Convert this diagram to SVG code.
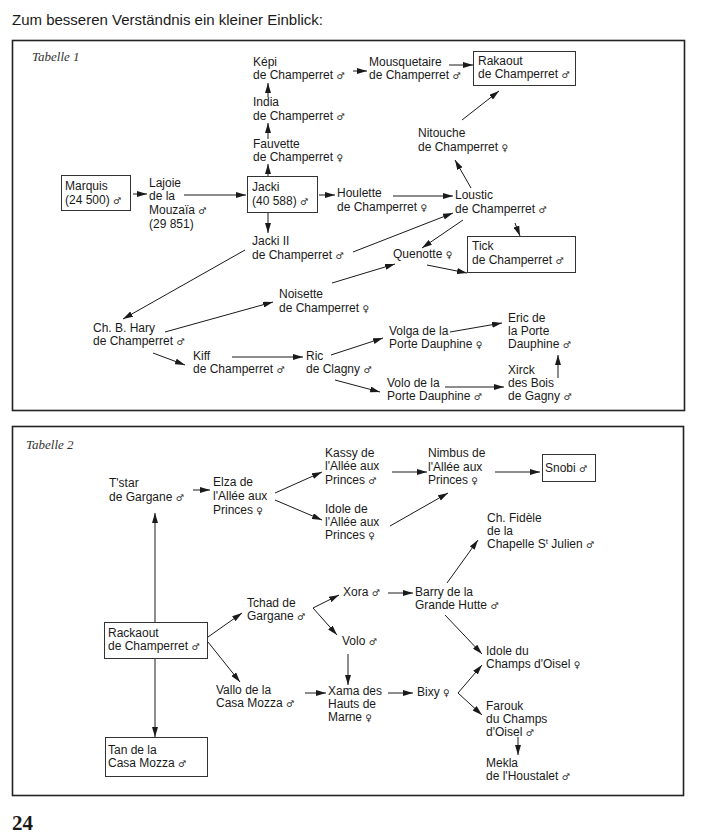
<svg xmlns="http://www.w3.org/2000/svg" width="701" height="839" viewBox="0 0 701 839">
<style>
  text { font-family: "Liberation Sans", Arial, "DejaVu Sans", sans-serif; font-size: 12px; fill: #1a1a1a; }
  .s { font-family: "DejaVu Sans", sans-serif; font-size: 9px; }
  .hdr { font-size: 15px; }
  .tab { font-family: "Liberation Serif", "Times New Roman", serif; font-style: italic; font-size: 13px; fill: #333; }
  .pg { font-family: "Liberation Serif", "Times New Roman", serif; font-weight: bold; font-size: 21px; }
  .frame { fill: none; stroke: #222; stroke-width: 1.6; }
  .box { fill: #fff; stroke: #333; stroke-width: 1; }
  .c { fill: none; stroke: #1a1a1a; stroke-width: 1; marker-end: url(#ah); }
</style>
<defs>
  <marker id="ah" viewBox="0 0 10 6" refX="10" refY="3" markerWidth="10" markerHeight="6" markerUnits="userSpaceOnUse" orient="auto">
    <path d="M0,0 L10,3 L0,6 z" fill="#1a1a1a"/>
  </marker>
</defs>
<rect width="701" height="839" fill="#fff"/>
<text class="hdr" x="12" y="25">Zum besseren Verständnis ein kleiner Einblick:</text>

<rect class="frame" x="12.5" y="40.5" width="672" height="370"/>
<rect class="frame" x="12.5" y="426.5" width="671" height="369"/>
<text class="tab" x="32" y="61">Tabelle 1</text>
<text class="tab" x="26" y="449">Tabelle 2</text>

<g id="connectors">
  <!-- Tabelle 1 -->
  <line class="c" x1="133" y1="194" x2="147" y2="194"/>
  <line class="c" x1="184" y1="195" x2="246" y2="195"/>
  <line class="c" x1="268" y1="176" x2="268" y2="164"/>
  <line class="c" x1="268" y1="139" x2="268" y2="123"/>
  <line class="c" x1="268" y1="97" x2="268" y2="83"/>
  <line class="c" x1="319" y1="195" x2="335" y2="195"/>
  <line class="c" x1="268" y1="213" x2="268" y2="233"/>
  <line class="c" x1="393" y1="196" x2="453" y2="196"/>
  <line class="c" x1="353" y1="71" x2="367" y2="71"/>
  <line class="c" x1="449" y1="65" x2="473" y2="65"/>
  <line class="c" x1="462" y1="120" x2="499" y2="91"/>
  <line class="c" x1="471" y1="188" x2="455" y2="160"/>
  <line class="c" x1="515" y1="223" x2="520" y2="236"/>
  <line class="c" x1="463" y1="220" x2="422" y2="248"/>
  <line class="c" x1="427" y1="265" x2="467" y2="273"/>
  <line class="c" x1="353" y1="252" x2="453" y2="213"/>
  <line class="c" x1="245" y1="250" x2="123" y2="319"/>
  <line class="c" x1="165" y1="332" x2="273" y2="302"/>
  <line class="c" x1="332" y1="283" x2="395" y2="264"/>
  <line class="c" x1="153" y1="353" x2="185" y2="365"/>
  <line class="c" x1="232" y1="357" x2="303" y2="357"/>
  <line class="c" x1="331" y1="355" x2="383" y2="338"/>
  <line class="c" x1="335" y1="380" x2="380" y2="392"/>
  <line class="c" x1="450" y1="332" x2="502" y2="323"/>
  <line class="c" x1="445" y1="387" x2="504" y2="387"/>
  <line class="c" x1="558" y1="378" x2="558" y2="355"/>
  <!-- Tabelle 2 -->
  <line class="c" x1="193" y1="490" x2="210" y2="490"/>
  <line class="c" x1="275" y1="493" x2="322" y2="472"/>
  <line class="c" x1="275" y1="500" x2="322" y2="520"/>
  <line class="c" x1="155" y1="622" x2="155" y2="513"/>
  <line class="c" x1="392" y1="472" x2="427" y2="472"/>
  <line class="c" x1="390" y1="526" x2="448" y2="493"/>
  <line class="c" x1="495" y1="472" x2="540" y2="472"/>
  <line class="c" x1="447" y1="583" x2="478" y2="540"/>
  <line class="c" x1="208" y1="637" x2="242" y2="613"/>
  <line class="c" x1="208" y1="642" x2="240" y2="682"/>
  <line class="c" x1="155" y1="658" x2="155" y2="737"/>
  <line class="c" x1="313" y1="608" x2="339" y2="595"/>
  <line class="c" x1="313" y1="608" x2="337" y2="635"/>
  <line class="c" x1="348" y1="654" x2="348" y2="685"/>
  <line class="c" x1="388" y1="593" x2="413" y2="593"/>
  <line class="c" x1="305" y1="693" x2="326" y2="693"/>
  <line class="c" x1="388" y1="693" x2="413" y2="693"/>
  <line class="c" x1="445" y1="615" x2="482" y2="654"/>
  <line class="c" x1="458" y1="693" x2="482" y2="665"/>
  <line class="c" x1="458" y1="693" x2="482" y2="715"/>
  <line class="c" x1="518" y1="737" x2="518" y2="755"/>
</g>

<!-- Tabelle 1 nodes -->
<g id="kepi"><text><tspan x="253" y="66">Képi</tspan><tspan x="253" y="79">de Champerret <tspan class="s">♂</tspan></tspan></text></g>
<g id="mousquetaire"><text><tspan x="369" y="66">Mousquetaire</tspan><tspan x="369" y="79">de Champerret <tspan class="s">♂</tspan></tspan></text></g>
<g id="rakaout"><rect class="box" x="473.5" y="51.5" width="102" height="34"/><text><tspan x="478" y="65">Rakaout</tspan><tspan x="478" y="78">de Champerret <tspan class="s">♂</tspan></tspan></text></g>
<g id="india"><text><tspan x="253" y="106">India</tspan><tspan x="253" y="120">de Champerret <tspan class="s">♂</tspan></tspan></text></g>
<g id="fauvette"><text><tspan x="253" y="148">Fauvette</tspan><tspan x="253" y="161">de Champerret <tspan class="s">♀</tspan></tspan></text></g>
<g id="nitouche"><text><tspan x="418" y="137">Nitouche</tspan><tspan x="418" y="151">de Champerret <tspan class="s">♀</tspan></tspan></text></g>
<g id="marquis"><rect class="box" x="61.5" y="175.5" width="69" height="35"/><text><tspan x="65" y="190">Marquis</tspan><tspan x="65" y="204">(24 500) <tspan class="s">♂</tspan></tspan></text></g>
<g id="lajoie"><text><tspan x="149" y="187">Lajoie</tspan><tspan x="149" y="200">de la</tspan><tspan x="149" y="214">Mouzaïa <tspan class="s">♂</tspan></tspan><tspan x="149" y="228">(29 851)</tspan></text></g>
<g id="jacki"><rect class="box" x="247.5" y="176.5" width="70" height="36"/><text><tspan x="252" y="191">Jacki</tspan><tspan x="252" y="205">(40 588) <tspan class="s">♂</tspan></tspan></text></g>
<g id="houlette"><text><tspan x="337" y="197">Houlette</tspan><tspan x="337" y="211">de Champerret <tspan class="s">♀</tspan></tspan></text></g>
<g id="loustic"><text><tspan x="455" y="199">Loustic</tspan><tspan x="455" y="213">de Champerret <tspan class="s">♂</tspan></tspan></text></g>
<g id="tick"><rect class="box" x="467.5" y="236.5" width="108" height="36"/><text><tspan x="472" y="250">Tick</tspan><tspan x="472" y="264">de Champerret <tspan class="s">♂</tspan></tspan></text></g>
<g id="jacki-ii"><text><tspan x="252" y="245">Jacki II</tspan><tspan x="252" y="259">de Champerret <tspan class="s">♂</tspan></tspan></text></g>
<g id="quenotte"><text x="393" y="258">Quenotte <tspan class="s">♀</tspan></text></g>
<g id="noisette"><text><tspan x="279" y="298">Noisette</tspan><tspan x="279" y="312">de Champerret <tspan class="s">♀</tspan></tspan></text></g>
<g id="ch-b-hary"><text><tspan x="93" y="332">Ch. B. Hary</tspan><tspan x="93" y="345">de Champerret <tspan class="s">♂</tspan></tspan></text></g>
<g id="kiff"><text><tspan x="193" y="360">Kiff</tspan><tspan x="193" y="373">de Champerret <tspan class="s">♂</tspan></tspan></text></g>
<g id="ric"><text><tspan x="306" y="360">Ric</tspan><tspan x="306" y="373">de Clagny <tspan class="s">♂</tspan></tspan></text></g>
<g id="volga"><text><tspan x="389" y="335">Volga de la</tspan><tspan x="389" y="348">Porte Dauphine <tspan class="s">♀</tspan></tspan></text></g>
<g id="eric"><text><tspan x="508" y="322">Eric de</tspan><tspan x="508" y="335">la Porte</tspan><tspan x="508" y="348">Dauphine <tspan class="s">♂</tspan></tspan></text></g>
<g id="xirck"><text><tspan x="508" y="374">Xirck</tspan><tspan x="508" y="387">des Bois</tspan><tspan x="508" y="400">de Gagny <tspan class="s">♂</tspan></tspan></text></g>
<g id="volo-porte"><text><tspan x="387" y="387">Volo de la</tspan><tspan x="387" y="400">Porte Dauphine <tspan class="s">♂</tspan></tspan></text></g>

<!-- Tabelle 2 nodes -->
<g id="tstar"><text><tspan x="109" y="487">T'star</tspan><tspan x="109" y="501">de Gargane <tspan class="s">♂</tspan></tspan></text></g>
<g id="elza"><text><tspan x="213" y="486">Elza de</tspan><tspan x="213" y="500">l'Allée aux</tspan><tspan x="213" y="514">Princes <tspan class="s">♀</tspan></tspan></text></g>
<g id="kassy"><text><tspan x="325" y="457">Kassy de</tspan><tspan x="325" y="470">l'Allée aux</tspan><tspan x="325" y="484">Princes <tspan class="s">♂</tspan></tspan></text></g>
<g id="idole-allee"><text><tspan x="325" y="513">Idole de</tspan><tspan x="325" y="526">l'Allée aux</tspan><tspan x="325" y="539">Princes <tspan class="s">♀</tspan></tspan></text></g>
<g id="nimbus"><text><tspan x="428" y="457">Nimbus de</tspan><tspan x="428" y="471">l'Allée aux</tspan><tspan x="428" y="484">Princes <tspan class="s">♀</tspan></tspan></text></g>
<g id="snobi"><rect class="box" x="542.5" y="454.5" width="53" height="27"/><text x="545" y="472">Snobi <tspan class="s">♂</tspan></text></g>
<g id="ch-fidele"><text><tspan x="487" y="522">Ch. Fidèle</tspan><tspan x="487" y="535">de la</tspan><tspan x="487" y="548">Chapelle S<tspan font-size="8" dy="-4">t</tspan><tspan dy="4"> Julien </tspan><tspan class="s">♂</tspan></tspan></text></g>
<g id="rackaout"><rect class="box" x="104.5" y="622.5" width="103" height="36"/><text><tspan x="108" y="637">Rackaout</tspan><tspan x="108" y="650">de Champerret <tspan class="s">♂</tspan></tspan></text></g>
<g id="tchad"><text><tspan x="247" y="607">Tchad de</tspan><tspan x="247" y="620">Gargane <tspan class="s">♂</tspan></tspan></text></g>
<g id="xora"><text x="343" y="596">Xora <tspan class="s">♂</tspan></text></g>
<g id="barry"><text><tspan x="415" y="596">Barry de la</tspan><tspan x="415" y="609">Grande Hutte <tspan class="s">♂</tspan></tspan></text></g>
<g id="volo"><text x="342" y="645">Volo <tspan class="s">♂</tspan></text></g>
<g id="vallo"><text><tspan x="216" y="694">Vallo de la</tspan><tspan x="216" y="707">Casa Mozza <tspan class="s">♂</tspan></tspan></text></g>
<g id="xama"><text><tspan x="328" y="695">Xama des</tspan><tspan x="328" y="708">Hauts de</tspan><tspan x="328" y="721">Marne <tspan class="s">♀</tspan></tspan></text></g>
<g id="bixy"><text x="417" y="696">Bixy <tspan class="s">♀</tspan></text></g>
<g id="idole-champs"><text><tspan x="486" y="655">Idole du</tspan><tspan x="486" y="668">Champs d'Oisel <tspan class="s">♀</tspan></tspan></text></g>
<g id="farouk"><text><tspan x="486" y="710">Farouk</tspan><tspan x="486" y="723">du Champs</tspan><tspan x="486" y="736">d'Oisel <tspan class="s">♂</tspan></tspan></text></g>
<g id="mekla"><text><tspan x="486" y="767">Mekla</tspan><tspan x="486" y="780">de l'Houstalet <tspan class="s">♂</tspan></tspan></text></g>
<g id="tan"><rect class="box" x="105.5" y="737.5" width="102" height="39"/><text><tspan x="108" y="754">Tan de la</tspan><tspan x="108" y="767">Casa Mozza <tspan class="s">♂</tspan></tspan></text></g>

<text class="pg" x="12" y="830">24</text>
</svg>
